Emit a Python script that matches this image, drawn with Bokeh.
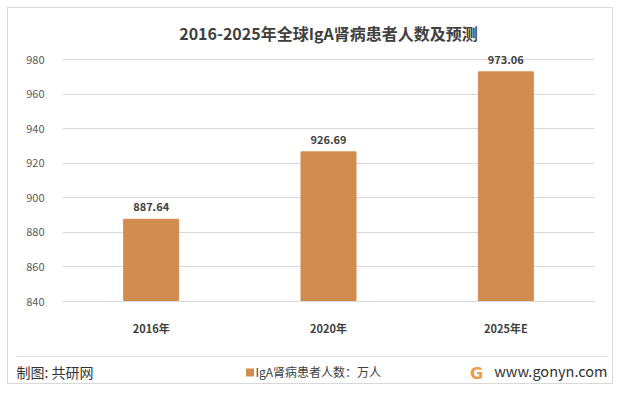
from bokeh.plotting import figure
from bokeh.layouts import column
from bokeh.models import ColumnDataSource, FixedTicker
from bokeh.embed import file_html
from bokeh.resources import INLINE
from bokeh.core.properties import value

categories = ["2016年", "2020年", "2025年E"]
values = [887.64, 926.69, 973.06]
value_labels = ["887.64", "926.69", "973.06"]
y_ticks = [840, 860, 880, 900, 920, 940, 960, 980]
title_text = "2016-2025年全球IgA肾病患者人数及预测"
series_name = "IgA肾病患者人数：万人"

CJK = "Noto Sans CJK SC"
BAR = "#D38C4F"

src = ColumnDataSource(dict(cat=categories, val=values, lab=value_labels))

p = figure(x_range=categories, y_range=(840, 986), width=604, height=341,
           output_backend="svg", toolbar_location=None, title=title_text,
           min_border_left=54, min_border_right=18, min_border_top=41, min_border_bottom=48)
p.outline_line_color = None
p.frame_align = False
p.title.align = "center"
p.title.text_font = CJK
p.title.text_font_size = "16px"
p.title.text_font_style = "bold"
p.title.text_color = "#404040"

p.vbar(x="cat", top="val", bottom=840, width=0.31, source=src, color=BAR)
p.text(x="cat", y="val", text="lab", source=src, text_align="center", text_baseline="bottom",
       y_offset=-8, text_font=value(CJK), text_font_size="11px", text_font_style="bold",
       text_color="#404040")

p.yaxis.ticker = FixedTicker(ticks=y_ticks)
p.yaxis.axis_line_color = None
p.yaxis.major_tick_line_color = None
p.yaxis.minor_tick_line_color = None
p.yaxis.major_label_text_font = CJK
p.yaxis.major_label_text_font_size = "11px"
p.yaxis.major_label_text_color = "#595959"
p.yaxis.major_label_standoff = 12

p.xaxis.axis_line_color = "#d9d9d9"
p.xaxis.major_tick_line_color = None
p.xaxis.minor_tick_line_color = None
p.xaxis.major_label_text_font = CJK
p.xaxis.major_label_text_font_size = "11px"
p.xaxis.major_label_text_font_style = "bold"
p.xaxis.major_label_text_color = "#404040"
p.xaxis.major_label_standoff = 12

p.xgrid.grid_line_color = None
p.ygrid.grid_line_color = "#d9d9d9"

# footer strip (source note, legend, website); coordinates = footer pixels
f = figure(x_range=(0, 604), y_range=(0, 34), width=604, height=34,
           output_backend="svg", toolbar_location=None, min_border=0,
           x_axis_type=None, y_axis_type=None)
f.frame_align = False
f.grid.grid_line_color = None
f.outline_line_color = None
f.segment(x0=[8], y0=[27], x1=[599], y1=[27], line_color="#e3e3e3", line_width=1)
f.text(x=[8], y=[12], text=["制图: 共研网"], text_baseline="middle",
       text_font=value(CJK), text_font_size="14px", text_color="#333333")
f.rect(x=[241.5], y=[11], width=8, height=8, fill_color=BAR, line_color=None)
f.text(x=[247], y=[12], text=[series_name], text_baseline="middle",
       text_font=value(CJK), text_font_size="12px", text_color="#404040")
f.text(x=[468], y=[10], text=["G"], text_baseline="middle", text_align="center",
       text_font=value("DejaVu Sans"), text_font_size="16px", text_font_style="bold",
       text_color="#F2994A")
f.text(x=[599], y=[13], text=["www.gonyn.com"], text_baseline="middle", text_align="right",
       text_font=value(CJK), text_font_size="14.5px", text_color="#333333")

layout = column(p, f, spacing=0,
                styles={"border": "1px solid #d9d9d9", "margin": "7px 0 0 7px"})

out = open("out.html", "w")
out.write(file_html(layout, INLINE))
out.close()
